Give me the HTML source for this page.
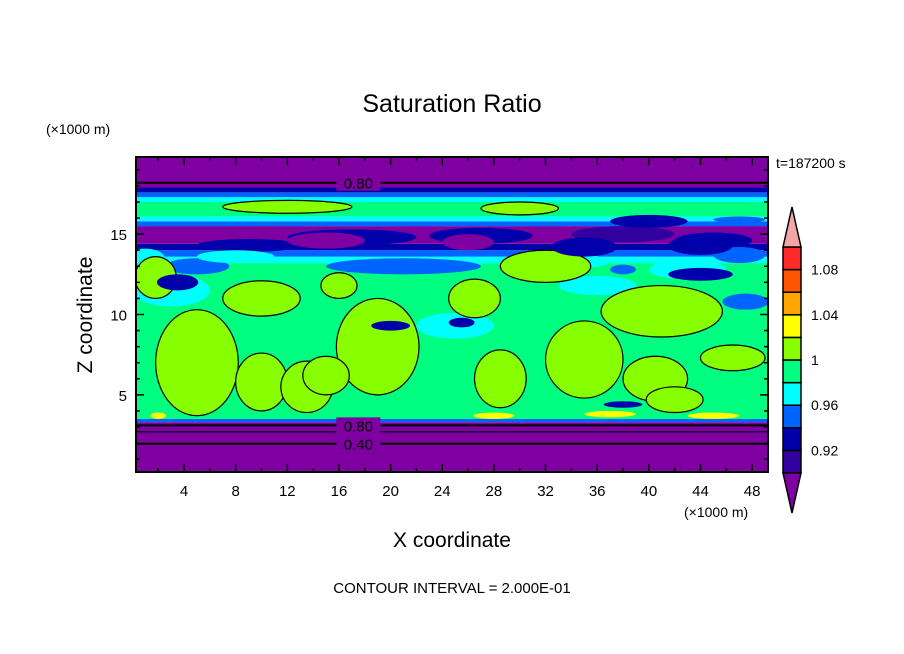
<!DOCTYPE html>
<html><head><meta charset="utf-8">
<style>
html,body{margin:0;padding:0;background:#fff;width:904px;height:654px;overflow:hidden}
svg{display:block}
text{font-family:"Liberation Sans","DejaVu Sans",sans-serif;fill:#000}
</style></head>
<body>
<svg id="chart" width="904" height="654" viewBox="0 0 904 654" xmlns="http://www.w3.org/2000/svg">
<text x="452" y="112" font-size="25" text-anchor="middle">Saturation Ratio</text>
<text x="46" y="134" font-size="14">(×1000 m)</text>
<text x="776" y="168" font-size="14">t=187200 s</text>
<text transform="translate(92,315) rotate(-90)" font-size="21" text-anchor="middle">Z coordinate</text>
<text x="452" y="547" font-size="21" text-anchor="middle">X coordinate</text>
<text x="684" y="517" font-size="14">(×1000 m)</text>
<text x="452" y="593" font-size="15" text-anchor="middle">CONTOUR INTERVAL = 2.000E-01</text>
<g id="plot"></g>
<g id="cbar"></g>
</svg>
<script>
// ---- data ----
const levelColors = ["#7f00a0","#3300a0","#0000aa","#0064ff","#00ffff","#00ff80","#88ff00","#ffff00","#ffa500","#ff5500","#ff2a2a","#f4a6a6"];
const colorbarLabels = ["0.92","0.96","1","1.04","1.08"];
const colorbarLabelBands = [1,3,5,7,9];
const xTicks = [4,8,12,16,20,24,28,32,36,40,44,48];
const zTicks = [5,10,15];
// horizontal layers: [zLow, zHigh, levelIndex]
const layerZLow  = [0.2, 3.3, 3.5, 13.2, 13.6, 14.0, 14.4, 15.5, 15.8, 16.1, 17.0, 17.3, 17.6, 17.9];
const layerZHigh = [3.3, 3.5, 13.2,13.6, 14.0, 14.4, 15.5, 15.8, 16.1, 17.0, 17.3, 17.6, 17.9, 19.8];
const layerLevel = [0,   3,   5,   4,    3,    2,    0,    3,    4,    5,    4,    3,    2,    0];
// blobs: x center, z center, x radius, z radius, level
const blobX  = [1,   5,   21,  9,   33,  3,   17,  27,  38,  45,  43,  25,  36,  8,   47,
                5,   10,  10,  13.5, 19,  15,  26.5, 28.5, 32,  35,  41,  40.5, 46.5, 42,  1.8, 16,  3.5, 15,  26,  35,  44,  47.5, 20,  38,  44,  12,  30,  25.5, 37,  45,  47,  40,  38,  2,   28];
const blobZ  = [13.5,13.0,13.0,14.3,13.3,11.5,14.8,14.9,15.0,14.6,12.8,9.3, 11.8,13.6,13.7,
                7,   11,  5.8, 5.5, 8,   6.2, 11,  6,   13,  7.2, 10.2, 6,   7.3, 4.7, 12.3, 11.8, 12,  14.6, 14.5, 14.2, 14.3, 10.8, 9.3, 12.8, 12.5, 16.7, 16.6, 9.5, 3.8, 3.7, 15.9, 15.8, 4.4, 3.7, 3.7];
const blobRX = [1.5, 2.5, 6,   4,   4,   3,   5,   4,   4,   3,   3,   3,   3,   3,   2,
                3.2, 3,   2,   2,   3.2, 1.8, 2,   2,   3.5, 3,   4.7, 2.5, 2.5, 2.2, 1.6, 1.4, 1.6, 3,   2,   2.5, 2.5, 1.8, 1.5, 1,   2.5, 5,   3,   1,   2,   2,   2,   3,   1.5, 0.6, 1.6];
const blobRZ = [0.6, 0.5, 0.5, 0.4, 0.5, 1.0, 0.5, 0.5, 0.5, 0.5, 0.6, 0.8, 0.6, 0.4, 0.5,
                3.3, 1.1, 1.8, 1.6, 3,   1.2, 1.2, 1.8, 1,   2.4, 1.6, 1.4, 0.8, 0.8, 1.3, 0.8, 0.5, 0.5, 0.5, 0.6, 0.6, 0.5, 0.3, 0.3, 0.4, 0.4, 0.4, 0.3, 0.2, 0.2, 0.2, 0.4, 0.2, 0.2, 0.2];
const blobLvl= [4,   3,   3,   2,   4,   4,   2,   2,   1,   2,   4,   4,   4,   4,   3,
                6,   6,   6,   6,   6,   6,   6,   6,   6,   6,   6,    6,   6,   6,   6,   6,   2,   0,   0,   2,   2,   3,   2,   3,   2,   6,   6,   2,   7,   7,   3,   2,   2,   7,   7];
const contourLineZ = [1.96, 2.7, 3.1, 18.2];
const contourLineLabel = ["0.40","","0.80","0.80"];
const contourLabelX = [17.5, 0, 17.5, 17.5];

// ---- axes ----
const X0=136,X1=768,Y0=157,Y1=472;
const xDom=[0.28,49.23], zDom=[0.2,19.8];
const xs=v=>X0+(v-xDom[0])/(xDom[1]-xDom[0])*(X1-X0);
const zs=v=>Y1-(v-zDom[0])/(zDom[1]-zDom[0])*(Y1-Y0);
const NS="http://www.w3.org/2000/svg";
function mk(tag,attrs,parent){const e=document.createElementNS(NS,tag);for(const k in attrs)e.setAttribute(k,attrs[k]);parent.appendChild(e);return e;}
const plot=document.getElementById('plot');
const clip=mk('clipPath',{id:'pc'},plot);mk('rect',{x:X0,y:Y0,width:X1-X0,height:Y1-Y0},clip);
const inner=mk('g',{'clip-path':'url(#pc)'},plot);


for(let i=0;i<layerZLow.length;i++){
  const r=mk('rect',{x:X0,y:zs(layerZHigh[i]),width:X1-X0,height:zs(layerZLow[i])-zs(layerZHigh[i]),fill:levelColors[layerLevel[i]]},inner);
  
  
}
for(let i=0;i<blobX.length;i++){
  const a={cx:xs(blobX[i]),cy:zs(blobZ[i]),rx:Math.abs(xs(blobX[i]+blobRX[i])-xs(blobX[i])),ry:Math.abs(zs(blobZ[i]+blobRZ[i])-zs(blobZ[i])),fill:levelColors[blobLvl[i]]};
  if(blobLvl[i]===6){a.stroke='#000';a['stroke-width']=1.2;}
  const e=mk('ellipse',a,inner);
  
  
}
for(let i=0;i<contourLineZ.length;i++){
  const y=zs(contourLineZ[i]);
  const l=mk('line',{x1:X0,x2:X1,y1:y,y2:y,stroke:'#000','stroke-width':i===1?1:2},inner);
  
  
  if(contourLineLabel[i]){
    const cx=xs(contourLabelX[i]);
    const bg=mk('rect',{x:cx-22,y:y-8,width:44,height:16,fill:levelColors[0]},inner);
    
    
    const t=mk('text',{x:cx,y:y+6,'font-size':15,'text-anchor':'middle'},inner);
    t.textContent=contourLineLabel[i];
    
    
  }
}
const frame=mk('rect',{x:X0,y:Y0,width:X1-X0,height:Y1-Y0,fill:'none',stroke:'#000','stroke-width':2},plot);


for(let v=2;v<=48;v+=2){
  const x=xs(v),L=(v%4===0)?8:4;
  mk('line',{x1:x,x2:x,y1:Y1,y2:Y1-L,stroke:'#000','stroke-width':1.5},plot);
  mk('line',{x1:x,x2:x,y1:Y0,y2:Y0+L,stroke:'#000','stroke-width':1.5},plot);
}
for(let v=1;v<=19;v++){
  const y=zs(v),L=(v%5===0)?8:4;
  mk('line',{x1:X0,x2:X0+L,y1:y,y2:y,stroke:'#000','stroke-width':1.5},plot);
  mk('line',{x1:X1,x2:X1-L,y1:y,y2:y,stroke:'#000','stroke-width':1.5},plot);
}
xTicks.forEach(v=>{const t=mk('text',{x:xs(v),y:496,'font-size':15,'text-anchor':'middle'},plot);t.textContent=v;
  });
zTicks.forEach(v=>{const t=mk('text',{x:127,y:zs(v)+6,'font-size':15,'text-anchor':'end'},plot);t.textContent=v;
  });

// ---- colorbar ----
const cb=document.getElementById('cbar');
const CX=783,CW=18,CT=247,BH=22.6,N=10;
for(let i=0;i<N;i++){
  const y=CT+(N-1-i)*BH;
  const r=mk('rect',{x:CX,y:y,width:CW,height:BH,fill:levelColors[i+1],stroke:'#000','stroke-width':1.5},cb);
  
  
}
const up=mk('polygon',{points:`${CX},${CT} ${CX+CW},${CT} ${CX+CW/2},207`,fill:levelColors[11],stroke:'#000','stroke-width':1.5},cb);


const dn=mk('polygon',{points:`${CX},${CT+N*BH} ${CX+CW},${CT+N*BH} ${CX+CW/2},513`,fill:levelColors[0],stroke:'#000','stroke-width':1.5},cb);


colorbarLabels.forEach((s,k)=>{
  const y=CT+(N-colorbarLabelBands[k])*BH;
  const t=mk('text',{x:811,y:y+5,'font-size':14},cb);t.textContent=s;
  
  
});
</script>
</body></html>
